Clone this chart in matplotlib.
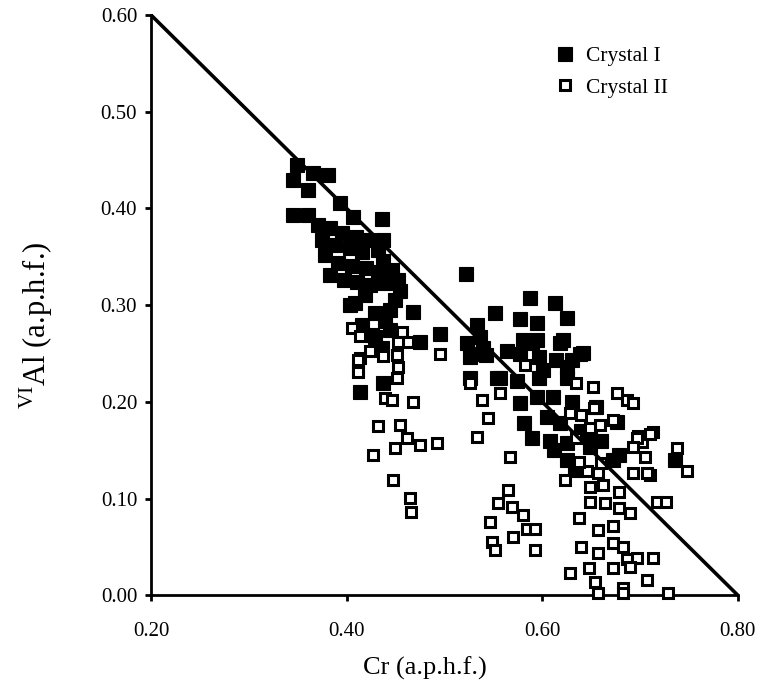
import matplotlib
matplotlib.use("Agg")
import matplotlib.pyplot as plt
from matplotlib.ticker import FormatStrFormatter

plt.rcParams["font.family"] = "Liberation Serif"
plt.rcParams["mathtext.fontset"] = "custom"
plt.rcParams["mathtext.rm"] = "Liberation Serif"

# Crystal I (filled squares): Cr vs VI-Al, a.p.h.f.
cr_1 = [0.349, 0.366, 0.381, 0.345, 0.360, 0.345, 0.360, 0.393, 0.406, 0.436,
        0.371, 0.383, 0.395, 0.410, 0.422, 0.375, 0.388, 0.403, 0.416, 0.432,
        0.437, 0.437, 0.378, 0.391, 0.405, 0.420, 0.432, 0.446, 0.383, 0.397,
        0.411, 0.424, 0.439, 0.453, 0.409, 0.429, 0.439, 0.429, 0.436, 0.449,
        0.455, 0.419, 0.403, 0.416, 0.426, 0.444, 0.444, 0.414, 0.437, 0.468,
        0.475, 0.495,
        0.522, 0.587, 0.613, 0.552, 0.577, 0.595, 0.625, 0.533, 0.523, 0.539,
        0.526, 0.543, 0.580, 0.595, 0.621, 0.642, 0.577, 0.597, 0.614, 0.630,
        0.557, 0.574, 0.597, 0.625, 0.533, 0.564, 0.590, 0.618, 0.639, 0.554,
        0.601, 0.625, 0.595, 0.611, 0.577, 0.605, 0.618, 0.581, 0.590, 0.608,
        0.625, 0.526, 0.536, 0.625, 0.649, 0.649, 0.676, 0.678, 0.672, 0.736,
        0.640, 0.655, 0.660, 0.630, 0.612, 0.633]
al_1 = [0.445, 0.437, 0.435, 0.429, 0.419, 0.393, 0.393, 0.406, 0.391, 0.389,
        0.383, 0.380, 0.375, 0.371, 0.367, 0.367, 0.362, 0.359, 0.355, 0.357,
        0.367, 0.346, 0.352, 0.344, 0.341, 0.338, 0.334, 0.336, 0.331, 0.326,
        0.324, 0.321, 0.323, 0.326, 0.302, 0.292, 0.284, 0.267, 0.256, 0.305,
        0.315, 0.310, 0.300, 0.279, 0.269, 0.295, 0.274, 0.210, 0.219, 0.293,
        0.262, 0.270,
        0.332, 0.307, 0.302, 0.292, 0.286, 0.282, 0.287, 0.279, 0.261, 0.256,
        0.246, 0.248, 0.264, 0.264, 0.264, 0.251, 0.250, 0.246, 0.243, 0.243,
        0.225, 0.222, 0.225, 0.225, 0.250, 0.253, 0.261, 0.261, 0.250, 0.225,
        0.233, 0.236, 0.205, 0.205, 0.199, 0.184, 0.178, 0.178, 0.163, 0.160,
        0.157, 0.225, 0.267, 0.140, 0.153, 0.167, 0.179, 0.145, 0.140, 0.140,
        0.170, 0.195, 0.160, 0.200, 0.150, 0.130]

# Crystal II (open squares)
cr_2 = [0.405, 0.414, 0.457, 0.463, 0.453, 0.451, 0.437, 0.424, 0.414, 0.452,
        0.412, 0.451, 0.439, 0.446, 0.468, 0.432, 0.455, 0.462, 0.475, 0.492,
        0.449, 0.427, 0.447, 0.465, 0.466, 0.495, 0.412, 0.412,
        0.526, 0.538, 0.545, 0.533, 0.567, 0.557, 0.582, 0.565, 0.555, 0.569,
        0.580, 0.547, 0.584, 0.593, 0.570, 0.549, 0.552, 0.593,
        0.635, 0.652, 0.676, 0.687, 0.693, 0.628, 0.640, 0.653, 0.659, 0.649,
        0.635, 0.672, 0.698, 0.713, 0.702, 0.710, 0.697, 0.693, 0.738, 0.748,
        0.705, 0.710, 0.693, 0.657, 0.646, 0.649, 0.662, 0.679, 0.623, 0.638,
        0.660, 0.707, 0.717, 0.727,
        0.649, 0.664, 0.679, 0.690, 0.638, 0.657, 0.672, 0.640, 0.657, 0.672,
        0.683, 0.687, 0.697, 0.713, 0.628, 0.648, 0.672, 0.690, 0.707, 0.654,
        0.683, 0.657, 0.683, 0.729]
al_2 = [0.276, 0.268, 0.272, 0.262, 0.262, 0.248, 0.247, 0.253, 0.245, 0.236,
        0.233, 0.225, 0.204, 0.202, 0.200, 0.175, 0.176, 0.163, 0.155, 0.157,
        0.152, 0.145, 0.119, 0.101, 0.086, 0.250, 0.243, 0.231,
        0.219, 0.202, 0.183, 0.164, 0.143, 0.209, 0.238, 0.109, 0.095, 0.091,
        0.083, 0.076, 0.069, 0.069, 0.060, 0.055, 0.047, 0.047,
        0.219, 0.215, 0.209, 0.202, 0.199, 0.188, 0.186, 0.194, 0.176, 0.173,
        0.163, 0.181, 0.165, 0.169, 0.158, 0.167, 0.163, 0.153, 0.152, 0.129,
        0.143, 0.124, 0.126, 0.126, 0.129, 0.112, 0.114, 0.107, 0.119, 0.138,
        0.137, 0.126, 0.096, 0.096,
        0.096, 0.095, 0.090, 0.085, 0.080, 0.067, 0.072, 0.050, 0.044, 0.054,
        0.050, 0.038, 0.039, 0.039, 0.023, 0.028, 0.028, 0.029, 0.016, 0.014,
        0.008, 0.002, 0.002, 0.002]

# 1:1 substitution line Cr + Al = 0.8
line_cr = [0.20, 0.80]
line_al = [0.60, 0.00]

fig = plt.figure(figsize=(7.63, 6.85), dpi=100)
ax = fig.add_axes([0.198, 0.131, 0.769, 0.847])

h1, = ax.plot(cr_1, al_1, "s", color="black", markersize=10, mew=0.8,
              linestyle="none", clip_on=False, zorder=3, label="Crystal I")
h2, = ax.plot(cr_2, al_2, "s", markerfacecolor="white", markeredgecolor="black",
              markersize=7.5, mew=2.2, linestyle="none", clip_on=False,
              zorder=4, label="Crystal II")
ax.plot(line_cr, line_al, color="black", lw=2.6, zorder=5, clip_on=False,
        solid_capstyle="butt")

ax.set_xlim(0.2, 0.8)
ax.set_ylim(0.0, 0.6)
ax.set_xticks([0.2, 0.4, 0.6, 0.8])
ax.set_yticks([0.0, 0.1, 0.2, 0.3, 0.4, 0.5, 0.6])
ax.xaxis.set_major_formatter(FormatStrFormatter("%.2f"))
ax.yaxis.set_major_formatter(FormatStrFormatter("%.2f"))

for side in ("top", "right"):
    ax.spines[side].set_visible(False)
for side in ("left", "bottom"):
    ax.spines[side].set_linewidth(2.0)

ax.tick_params(axis="x", direction="out", length=4, width=2, pad=15,
               labelsize=15)
ax.tick_params(axis="y", direction="out", length=4, width=2, pad=6,
               labelsize=15)

ax.set_xlabel("Cr (a.p.h.f.)", fontsize=19)
ax.xaxis.set_label_coords(0.467, -0.105)
ax.set_ylabel(r"$^{\mathrm{VI}}$Al (a.p.h.f.)", fontsize=22)
ax.yaxis.set_label_coords(-0.163, 0.466)

ax.legend(handles=[h1, h2], loc="upper left", frameon=False,
          bbox_to_anchor=(556 / 763, 1 - 46 / 685),
          bbox_transform=fig.transFigure, borderaxespad=0, borderpad=0,
          handlelength=0.8, handletextpad=0.6, labelspacing=0.55,
          fontsize=15.5)

fig.savefig("out.png", dpi=100)
